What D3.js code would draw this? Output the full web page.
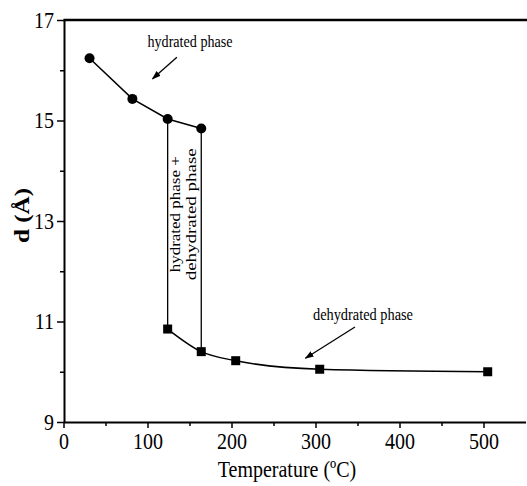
<!DOCTYPE html>
<html lang="en">
  <head>
    <meta charset="utf-8">
    <title>d spacing vs temperature</title>
    <script type="text/javascript" src="https://d3js.org/d3.v7.min.js"></script>
    <style type="text/css">
      body { margin: 0; background: #fff; }
      .tick text { font-family: "Liberation Serif", "DejaVu Serif", serif; font-size: 20px; fill: #000; }
      .axis path, .axis line { stroke: #000; }
      .axisTitle { font-family: "Liberation Serif", serif; font-size: 20px; fill: #000; }
      .note { font-family: "Liberation Serif", serif; font-size: 15px; fill: #000; }
    </style>
  </head>
  <body>
    <div id="chart"></div>
    <script type="text/javascript">

      const w = 527;
      const h = 486;
      const stretch = 1.12; // the scanned figure is a bit taller than wide

      // hydrated phase (circles)
      const hydT = [31, 82, 124, 164];
      const hydD = [16.24, 15.43, 15.03, 14.84];

      // dehydrated phase (squares)
      const dehT = [124, 164, 205, 305, 505];
      const dehD = [10.85, 10.40, 10.22, 10.05, 10.00];

      const xTicks = [0, 100, 200, 300, 400, 500];
      const xMinor = [50, 150, 250, 350, 450];
      const yTicks = [9, 11, 13, 15, 17];
      const yMinor = [10, 12, 14, 16];

      const svg = d3.select("#chart")
                    .append("svg")
                    .attr("width", w)
                    .attr("height", h);

      const x = d3.scaleLinear().domain([0, 550]).range([63.5, 525.5]);
      const y = d3.scaleLinear().domain([9, 17]).range([422, 20]);

      // minor ticks first
      svg.append("g")
         .attr("class", "axis")
         .attr("transform", "translate(0,422)")
         .call(d3.axisBottom(x).tickValues(xMinor).tickSize(4).tickFormat(""))
         .call(g => g.select(".domain").remove())
         .selectAll("line").attr("stroke-width", 1.5);

      svg.append("g")
         .attr("class", "axis")
         .attr("transform", "translate(64,0)")
         .call(d3.axisLeft(y).tickValues(yMinor).tickSize(4).tickFormat(""))
         .call(g => g.select(".domain").remove())
         .selectAll("line").attr("stroke-width", 1.5);

      // major axes
      const xAxis = svg.append("g")
         .attr("class", "axis")
         .attr("transform", "translate(0,422)")
         .call(d3.axisBottom(x).tickValues(xTicks).tickSize(6).tickSizeOuter(0).tickPadding(4));
      xAxis.select(".domain").attr("stroke-width", 2);
      xAxis.selectAll("line").attr("stroke-width", 1.5);
      xAxis.selectAll(".tick text").attr("transform", `scale(1,${stretch})`);

      const yAxis = svg.append("g")
         .attr("class", "axis")
         .attr("transform", "translate(64,0)")
         .call(d3.axisLeft(y).tickValues(yTicks).tickSize(7).tickSizeOuter(0).tickPadding(3));
      yAxis.select(".domain").attr("stroke-width", 2);
      yAxis.selectAll("line").attr("stroke-width", 1.5);
      yAxis.selectAll(".tick text").attr("transform", `scale(1,${stretch})`);

      // top frame line
      svg.append("line")
         .attr("x1", x(0)).attr("x2", w)
         .attr("y1", y(17)).attr("y2", y(17))
         .attr("stroke", "#000")
         .attr("stroke-width", 2.5);

      // axis titles
      svg.append("text")
         .attr("class", "axisTitle")
         .attr("transform", `translate(287,477) scale(1,${stretch})`)
         .attr("text-anchor", "middle")
         .text("Temperature (ºC)");

      svg.append("text")
         .attr("class", "axisTitle")
         .attr("transform", "translate(29,215.5) rotate(-90)")
         .attr("text-anchor", "middle")
         .attr("font-weight", "bold")
         .attr("font-size", "21px")
         .attr("textLength", 55)
         .attr("lengthAdjust", "spacingAndGlyphs")
         .text("d (Å)");

      const hyd = hydT.map((t, i) => [t, hydD[i]]);
      const deh = dehT.map((t, i) => [t, dehD[i]]);

      // hydrated line
      svg.append("path")
         .datum(hyd)
         .attr("fill", "none")
         .attr("stroke", "#000")
         .attr("stroke-width", 1.5)
         .attr("d", d3.line().x(d => x(d[0])).y(d => y(d[1])));

      // dehydrated curve
      svg.append("path")
         .datum(deh)
         .attr("fill", "none")
         .attr("stroke", "#000")
         .attr("stroke-width", 1.5)
         .attr("d", d3.line().curve(d3.curveMonotoneX).x(d => x(d[0])).y(d => y(d[1])));

      // vertical connectors (two-phase region)
      svg.selectAll(".conn")
         .data([0, 1])
         .enter()
         .append("line")
         .attr("class", "conn")
         .attr("x1", i => x(hydT[i + 2])).attr("x2", i => x(dehT[i]))
         .attr("y1", i => y(hydD[i + 2])).attr("y2", i => y(dehD[i]))
         .attr("stroke", "#000")
         .attr("stroke-width", 1.3);

      svg.selectAll(".circ")
         .data(hyd)
         .enter()
         .append("circle")
         .attr("class", "circ")
         .attr("cx", d => x(d[0]))
         .attr("cy", d => y(d[1]))
         .attr("r", 5)
         .attr("fill", "#000");

      svg.selectAll(".sq")
         .data(deh)
         .enter()
         .append("rect")
         .attr("class", "sq")
         .attr("x", d => x(d[0]) - 4.5)
         .attr("y", d => y(d[1]) - 4.5)
         .attr("width", 9)
         .attr("height", 9)
         .attr("fill", "#000");

      // arrowhead
      svg.append("defs").append("marker")
         .attr("id", "arrow")
         .attr("viewBox", "0 0 10 10")
         .attr("refX", 9).attr("refY", 5)
         .attr("markerWidth", 9).attr("markerHeight", 9)
         .attr("markerUnits", "userSpaceOnUse")
         .attr("orient", "auto")
         .append("path")
         .attr("d", "M0,1.5 L10,5 L0,8.5 Z")
         .attr("fill", "#000");

      // annotations: [x, y] in data units
      const arrows = [
        [[135, 16.26], [106, 15.83]],
        [[347, 10.89], [288, 10.27]]
      ];
      svg.selectAll(".arr")
         .data(arrows)
         .enter()
         .append("line")
         .attr("class", "arr")
         .attr("x1", d => x(d[0][0])).attr("y1", d => y(d[0][1]))
         .attr("x2", d => x(d[1][0])).attr("y2", d => y(d[1][1]))
         .attr("stroke", "#000")
         .attr("stroke-width", 1.3)
         .attr("marker-end", "url(#arrow)");

      svg.append("text").attr("class", "note")
         .attr("transform", `translate(${x(100)},${y(16.46)}) scale(1,${stretch})`)
         .attr("textLength", 85)
         .attr("lengthAdjust", "spacingAndGlyphs")
         .text("hydrated phase");

      svg.append("text").attr("class", "note")
         .attr("transform", `translate(${x(297)},${y(11.02)}) scale(1,${stretch})`)
         .attr("textLength", 100)
         .attr("lengthAdjust", "spacingAndGlyphs")
         .text("dehydrated phase");

      svg.append("text").attr("class", "note")
         .attr("font-size", "16px")
         .attr("transform", `translate(${x(139)},${y(11.98)}) rotate(-90)`)
         .attr("textLength", 116)
         .attr("lengthAdjust", "spacingAndGlyphs")
         .text("hydrated phase +");

      svg.append("text").attr("class", "note")
         .attr("font-size", "16px")
         .attr("transform", `translate(${x(158)},${y(11.82)}) rotate(-90)`)
         .attr("textLength", 132)
         .attr("lengthAdjust", "spacingAndGlyphs")
         .text("dehydrated phase");

    </script>
  </body>
</html>
